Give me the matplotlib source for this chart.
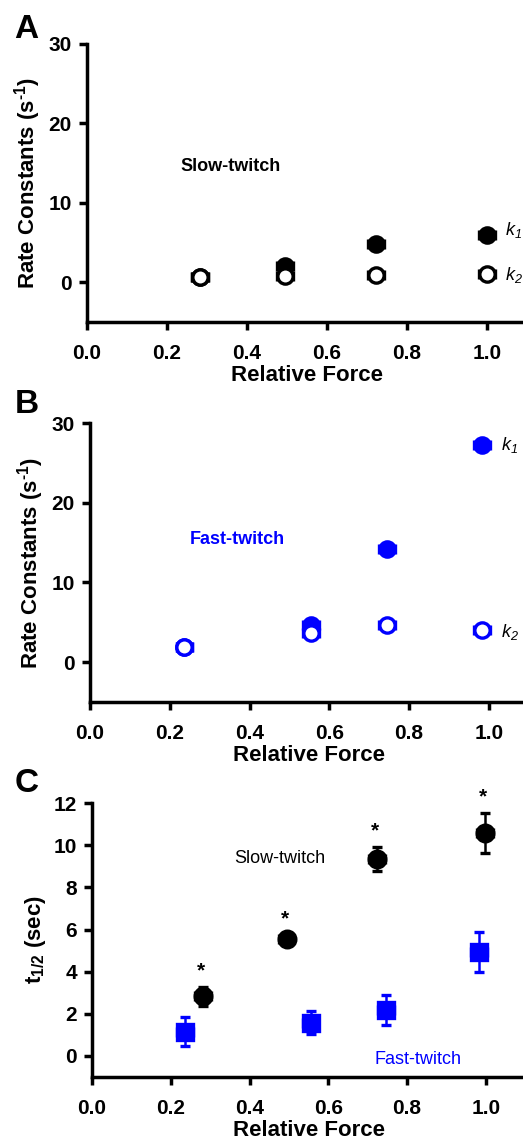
import numpy as np
import matplotlib
matplotlib.use("Agg")
import matplotlib.pyplot as plt

plt.rcParams['font.family'] = ['Liberation Sans', 'DejaVu Sans']
plt.rcParams['mathtext.fontset'] = 'custom'
plt.rcParams['mathtext.it'] = 'Liberation Sans:italic'
plt.rcParams['mathtext.sf'] = 'Liberation Sans:italic'
plt.rcParams['mathtext.rm'] = 'Liberation Sans:bold'
plt.rcParams['mathtext.bf'] = 'Liberation Sans:bold'

# --------------------------------
# Datos
# --------------------------------
# A: slow-twitch
slow_force = [0.282, 0.494, 0.724, 1.0]
slow_k1 = [0.7, 2.1, 4.8, 6.0]
slow_k1_err = [0.3, 0.4, 0.5, 0.4]
slow_k2 = [0.7, 0.85, 0.95, 1.05]
slow_k2_err = [0.3, 0.3, 0.3, 0.3]

# B: fast-twitch
fast_force = [0.237, 0.555, 0.745, 0.982]
fast_k1 = [1.85, 4.7, 14.2, 27.2]
fast_k1_err = [0.3, 0.5, 0.5, 0.6]
fast_k2 = [1.85, 3.65, 4.7, 4.05]
fast_k2_err = [0.3, 0.4, 0.4, 0.3]

force_err = [0.02, 0.02, 0.02, 0.02]

# C: t1/2
slow_t_force = [0.281, 0.494, 0.723, 0.999]
slow_t = [2.84, 5.53, 9.35, 10.6]
slow_t_err = [0.45, 0.2, 0.56, 0.95]
fast_t_force = [0.237, 0.555, 0.746, 0.983]
fast_t = [1.14, 1.58, 2.18, 4.93]
fast_t_err = [0.69, 0.55, 0.72, 0.94]

BLUE = '#0000ff'
xticks = [0.0, 0.2, 0.4, 0.6, 0.8, 1.0]

fig = plt.figure(figsize=(5.23, 11.48), dpi=100)


def estilo(ax, ylim, yticks):
    ax.set_xlim(0, 1.1)
    ax.set_ylim(*ylim)
    ax.set_xticks(xticks)
    ax.set_xticklabels([f"{t:.1f}" for t in xticks])
    ax.set_yticks(yticks)
    for s in ['top', 'right']:
        ax.spines[s].set_visible(False)
    for s in ['left', 'bottom']:
        ax.spines[s].set_linewidth(2.5)
    ax.spines['left'].set_bounds(ylim[0], yticks[-1])
    ax.tick_params(direction='out', length=6, width=2.5, labelsize=15)
    ax.tick_params(axis='x', pad=10)
    ax.tick_params(axis='y', pad=5)
    for lab in ax.get_xticklabels() + ax.get_yticklabels():
        lab.set_fontweight('bold')
    ax.set_xlabel('Relative Force', fontsize=16, fontweight='bold', labelpad=1)


def puntos(ax, x, y, yerr, color, marker, filled, ms=11):
    ax.errorbar(x, y, xerr=force_err, yerr=yerr, fmt=marker, ms=ms,
                mfc=color if filled else 'white', mec=color, mew=2.4,
                ecolor=color, elinewidth=1.8, capsize=3.5, capthick=2.2, zorder=3)


def etiqueta_k(ax, x, y, n):
    ax.text(x, y, '$k_{\\mathsf{%d}}$' % n, fontsize=13, va='center')


# ---------------- A ----------------
axA = fig.add_axes([0.1663, 0.7195, 0.841, 0.2422])
puntos(axA, slow_force, slow_k1, slow_k1_err, 'black', 'o', True)
puntos(axA, slow_force, slow_k2, slow_k2_err, 'black', 'o', False)
estilo(axA, (-5, 30), [0, 10, 20, 30])
axA.set_ylabel('Rate Constants (s$^{\\text{-1}}$)', fontsize=16, fontweight='bold')
axA.text(0.235, 14.6, 'Slow-twitch', fontsize=13, fontweight='bold', va='center')
etiqueta_k(axA, 1.045, 6.6, 1)
etiqueta_k(axA, 1.045, 0.9, 2)

# ---------------- B ----------------
axB = fig.add_axes([0.172, 0.3885, 0.839, 0.2430])
puntos(axB, fast_force, fast_k1, fast_k1_err, BLUE, 'o', True)
puntos(axB, fast_force, fast_k2, fast_k2_err, BLUE, 'o', False)
estilo(axB, (-5, 30), [0, 10, 20, 30])
axB.set_ylabel('Rate Constants (s$^{\\text{-1}}$)', fontsize=16, fontweight='bold')
axB.text(0.251, 15.4, 'Fast-twitch', fontsize=13, fontweight='bold', color=BLUE, va='center')
etiqueta_k(axB, 1.03, 27.2, 1)
etiqueta_k(axB, 1.03, 3.8, 2)

# ---------------- C ----------------
axC = fig.add_axes([0.176, 0.0618, 0.828, 0.2387])
puntos(axC, slow_t_force, slow_t, slow_t_err, 'black', 'o', True, ms=12)
puntos(axC, fast_t_force, fast_t, fast_t_err, BLUE, 's', True, ms=11)
estilo(axC, (-1, 12), [0, 2, 4, 6, 8, 10, 12])
axC.set_ylabel('t$_{\\text{1/2}}$ (sec)', fontsize=16, fontweight='bold')
for x, y, e in zip(slow_t_force, slow_t, slow_t_err):
    axC.text(x - 0.005, y + e + 0.3, '*', fontsize=15, fontweight='bold',
             ha='center', va='bottom')
axC.text(0.362, 9.36, 'Slow-twitch', fontsize=13, va='center')
axC.text(0.718, -0.16, 'Fast-twitch', fontsize=13, color=BLUE, va='center')

# etiquetas de panel
for lbl, y in [('A', 0.967), ('B', 0.640), ('C', 0.310)]:
    fig.text(0.028, y, lbl, fontsize=24, fontweight='bold', va='baseline')

fig.savefig('out.png', dpi=100)
